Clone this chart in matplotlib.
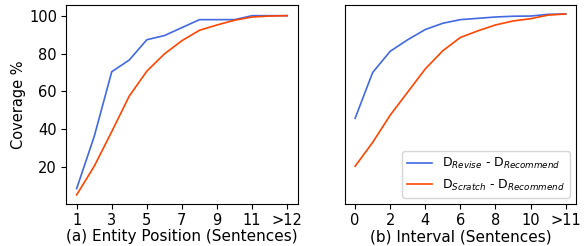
import numpy as np
import matplotlib
matplotlib.use('Agg')
import matplotlib.pyplot as plt

# (a) entity position, positions 1..12 and ">12"
pos_x = np.arange(1, 14)
pos_revise = [8.7, 36.2, 70.4, 76.6, 87.3, 89.5, 93.7, 97.9, 97.9, 97.9, 100, 100, 100]
pos_scratch = [5.4, 20.5, 38.8, 57.6, 70.7, 79.8, 86.8, 92.3, 95.1, 97.6, 99.3, 99.8, 100]
pos_ticks = [1, 3, 5, 7, 9, 11, 13]
pos_labels = ['1', '3', '5', '7', '9', '11', '>12']

# (b) interval, 0..11 and ">11"
int_x = np.arange(0, 13)
int_revise = [45.8, 70.0, 81.2, 87.3, 92.7, 96.0, 97.9, 98.6, 99.3, 99.7, 99.8, 100.7, 100.9]
int_scratch = [20.5, 33.1, 47.5, 59.7, 71.9, 81.5, 88.5, 92.0, 95.1, 97.2, 98.4, 100.3, 100.9]
int_ticks = [0, 2, 4, 6, 8, 10, 12]
int_labels = ['0', '2', '4', '6', '8', '10', '>11']

blue = 'royalblue'
red = 'orangered'

fig = plt.figure(figsize=(5.85, 2.46), dpi=100)
ax1 = fig.add_axes([0.113, 0.171, 0.396, 0.809])
ax2 = fig.add_axes([0.589, 0.171, 0.396, 0.809], sharey=ax1)

ax1.plot(pos_x, pos_revise, color=blue, lw=1.2)
ax1.plot(pos_x, pos_scratch, color=red, lw=1.2)
ax1.set_xticks(pos_ticks)
ax1.set_xticklabels(pos_labels)
ax1.set_xlabel('(a) Entity Position (Sentences)', fontsize=11, labelpad=1)
ax1.set_ylabel('Coverage %', fontsize=10.5, labelpad=2)
ax1.set_yticks([20, 40, 60, 80, 100])
ax1.tick_params(labelsize=10.5, pad=3)

ax2.plot(int_x, int_revise, color=blue, lw=1.2,
         label='D$_{Revise}$ - D$_{Recommend}$')
ax2.plot(int_x, int_scratch, color=red, lw=1.2,
         label='D$_{Scratch}$ - D$_{Recommend}$')
ax2.set_xticks(int_ticks)
ax2.set_xticklabels(int_labels)
ax2.set_xlabel('(b) Interval (Sentences)', fontsize=11, labelpad=1)
ax2.tick_params(labelsize=10.5, pad=3, left=False, labelleft=False)
ax2.legend(loc='lower right', fontsize=9)

plt.savefig('out.png', dpi=100)
